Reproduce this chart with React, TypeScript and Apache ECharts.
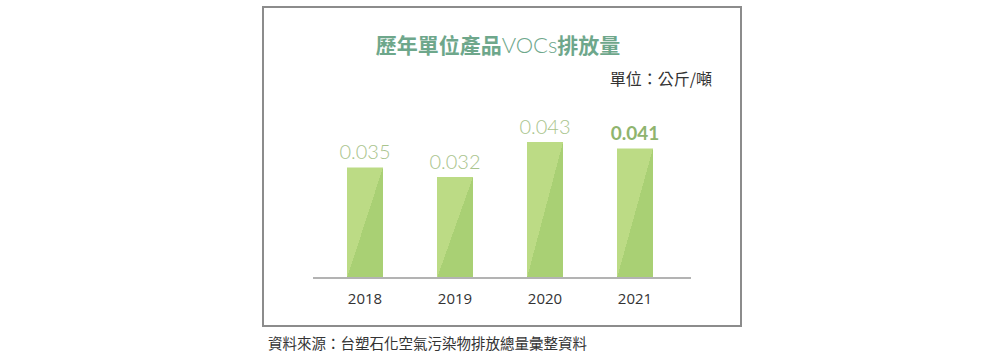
import React, { useEffect, useRef } from "react";
import * as echarts from "echarts";

const categories = ["2018", "2019", "2020", "2021"];
const values = [0.035, 0.032, 0.043, 0.041];
const highlightIndex = 3;

export default function App() {
  const ref = useRef<HTMLDivElement>(null);
  useEffect(() => {
    const chart = echarts.init(ref.current!, null, { renderer: "svg" });
    const barColor = {
      type: "linear",
      x: 0,
      y: 0,
      x2: 1,
      y2: 1,
      colorStops: [
        { offset: 0, color: "#bcdb85" },
        { offset: 0.5, color: "#bcdb85" },
        { offset: 0.5, color: "#a9d074" },
        { offset: 1, color: "#a9d074" },
      ],
    };
    chart.setOption({
      animation: false,
      grid: { left: 320, right: 320, top: 120, bottom: 82 },
      xAxis: {
        type: "category",
        data: categories,
        axisLine: { show: false },
        axisTick: { show: false },
        axisLabel: {
          color: "#333",
          fontSize: 15,
          margin: 12,
          fontFamily: "Open Sans, sans-serif",
        },
      },
      yAxis: {
        type: "value",
        min: 0,
        max: 0.05,
        show: false,
        splitLine: { show: false },
      },
      series: [
        {
          type: "bar",
          data: values.map((v, i) => ({
            value: v,
            label:
              i === highlightIndex
                ? { fontWeight: "bold", color: "#8fb46e", fontSize: 19 }
                : undefined,
          })),
          barWidth: 36,
          itemStyle: { color: barColor },
          label: {
            show: true,
            position: "top",
            distance: 6,
            fontSize: 20,
            fontFamily: "Lato, sans-serif",
            fontWeight: 300,
            color: "#a9c48d",
          },
        },
      ],
      graphic: [
        {
          type: "rect",
          shape: { x: 263, y: 7, width: 478, height: 319 },
          style: { fill: "none", stroke: "#8c8c8c", lineWidth: 2 },
          z: 0,
        },
        {
          type: "line",
          shape: { x1: 313, y1: 278, x2: 691, y2: 278 },
          style: { stroke: "#b3b3b3", lineWidth: 2 },
          z: 10,
        },
        {
          type: "text",
          x: 498,
          y: 44,
          style: {
            text: "{c|歷年單位產品}{l|VOCs}{c|排放量}",
            align: "center",
            verticalAlign: "middle",
            rich: {
              c: {
                fontSize: 21,
                fontWeight: "bold",
                fill: "#6ea78b",
                fontFamily: "Noto Sans CJK TC, sans-serif",
              },
              l: {
                fontSize: 22,
                fill: "#6ea78b",
                fontFamily: "Lato, sans-serif",
                fontWeight: 300,
              },
            },
          },
        },
        {
          type: "text",
          x: 712,
          y: 78,
          style: {
            text: "單位：公斤/噸",
            align: "right",
            verticalAlign: "middle",
            fontSize: 16,
            fill: "#333",
            fontFamily: "Noto Sans CJK TC, sans-serif",
          },
        },
        {
          type: "text",
          x: 268,
          y: 342,
          style: {
            text: "資料來源：台塑石化空氣污染物排放總量彙整資料",
            align: "left",
            verticalAlign: "middle",
            fontSize: 14.5,
            fill: "#333",
            fontFamily: "Noto Sans CJK TC, sans-serif",
          },
        },
      ],
    });
    return () => chart.dispose();
  }, []);
  return (
    <div
      ref={ref}
      style={{
        position: "fixed",
        left: 0,
        top: 0,
        width: 1000,
        height: 360,
        background: "#fff",
      }}
    />
  );
}
